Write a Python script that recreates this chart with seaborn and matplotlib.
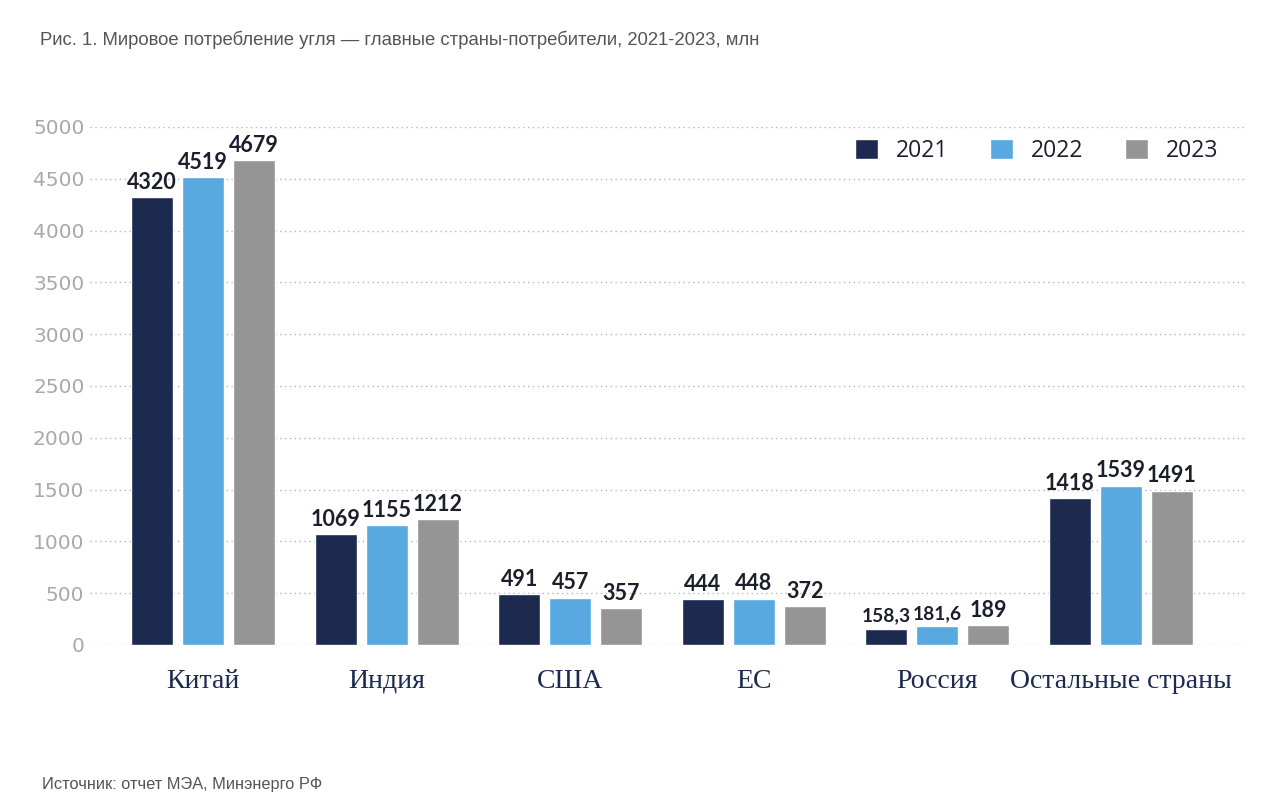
import matplotlib
matplotlib.use("Agg")
import matplotlib.pyplot as plt
import matplotlib.transforms as mtransforms
import seaborn as sns
import pandas as pd

countries = ["Китай", "Индия", "США", "ЕС", "Россия", "Остальные страны"]
years = ["2021", "2022", "2023"]
v2021 = [4320, 1069, 491, 444, 158.3, 1418]
v2022 = [4519, 1155, 457, 448, 181.6, 1539]
v2023 = [4679, 1212, 357, 372, 189, 1491]
yticks = [0, 500, 1000, 1500, 2000, 2500, 3000, 3500, 4000, 4500, 5000]

title = "Рис. 1. Мировое потребление угля — главные страны-потребители, 2021-2023, млн"
source = "Источник: отчет МЭА, Минэнерго РФ"

colors = ["#1c2a50", "#57a9e0", "#959595"]

rows = []
for y, vals in zip(years, [v2021, v2022, v2023]):
    for c, v in zip(countries, vals):
        rows.append({"country": c, "year": y, "value": v})
df = pd.DataFrame(rows)

sns.set_theme(style="white")
plt.rcParams["font.family"] = ["DejaVu Sans"]

fig = plt.figure(figsize=(12.8, 8.09), dpi=100)
ax = fig.add_axes([90/1280, 1-645/809, (1245-90)/1280, (645-127)/809])

sns.barplot(data=df, x="country", y="value", hue="year", palette=colors,
            order=countries, hue_order=years, width=0.834, gap=0.18,
            saturation=1, ax=ax, legend=True, zorder=3)

def fmt(v):
    if float(v).is_integer():
        return str(int(v))
    return ("%.1f" % v).replace(".", ",")

for cont, vals in zip(ax.containers, [v2021, v2022, v2023]):
    texts = ax.bar_label(cont, labels=[fmt(v) for v in vals], padding=3,
                         fontsize=15.5, color="#1b1f2c", fontweight="bold", family="Lato")
    for t, v in zip(texts, vals):
        if not float(v).is_integer():
            t.set_fontsize(13.8)

ax.set_ylim(0, 5000)
ax.set_xlim(-0.616, 5.676)
ax.set_yticks(yticks)
ax.set_yticklabels([str(t) for t in yticks], color="#a9a9a9", fontsize=14.5)
ax.tick_params(axis="y", length=0, pad=4)
ax.tick_params(axis="x", length=0)
ax.set_xticklabels([])
trans = mtransforms.blended_transform_factory(ax.transData, ax.transAxes)
for i, name in enumerate(countries):
    ax.text(i, -0.083, name, transform=trans, ha="center", va="baseline",
            family="Liberation Serif", fontsize=20, color="#1c2a50")
ax.set_xlabel("")
ax.set_ylabel("")
ax.grid(axis="y", linestyle=(0, (1, 2.5)), color="#b5b5b5", linewidth=1, zorder=0)
ax.grid(axis="x", visible=False)
for s in ax.spines.values():
    s.set_visible(False)

leg = ax.legend(ncol=3, loc="upper right", bbox_to_anchor=(0.985, 0.995), frameon=False,
                prop={"family": "Open Sans", "size": 16.5},
                handlelength=1.0, handleheight=1.0, handletextpad=0.8,
                columnspacing=1.8, borderaxespad=0)
for t in leg.get_texts():
    t.set_color("#1b1f2c")

fig.text(40/1280, 1-40/809, title, fontsize=13.3, color="#555555",
         family="Liberation Sans", va="center", ha="left")
fig.text(42/1280, 1-785/809, source, fontsize=11.8, color="#555555",
         family="Liberation Sans", va="center", ha="left")

fig.savefig("out.png", dpi=100)
